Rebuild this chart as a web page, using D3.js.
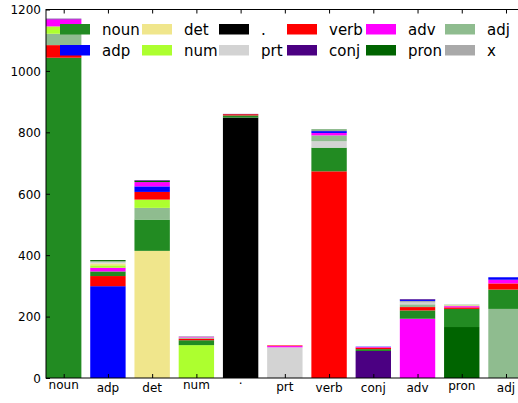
<!DOCTYPE html>
<html>
<head>
<meta charset="utf-8">
<script src="https://cdn.jsdelivr.net/npm/d3@7"></script>
<style>
  body { margin: 0; background: #fff; }
  svg { display: block; font-family: 'DejaVu Sans', sans-serif; }
</style>
</head>
<body>
<div id="chart"></div>
<script>
// categories on the x axis (one stacked bar each)
const categories = ['noun', 'adp', 'det', 'num', '.', 'prt', 'verb', 'conj', 'adv', 'pron', 'adj'];

// series (legend order) and their colours
const seriesNames = ['noun', 'adp', 'det', 'num', '.', 'prt', 'verb', 'conj', 'adv', 'pron', 'adj', 'x'];
const seriesColors = ['#228B22', '#0000FF', '#F0E68C', '#ADFF2F', '#000000', '#D3D3D3',
                      '#FF0000', '#4B0082', '#FF00FF', '#006400', '#8FBC8F', '#A9A9A9'];

// values per series, one per category
const nounVals = [1043, 15, 102, 16, 7, 0, 77, 6, 27, 59, 63];
const adpVals  = [0, 299, 18, 0, 0, 0, 6, 1, 4, 0, 8];
const detVals  = [0, 6, 414, 1, 0, 0, 0, 0, 0, 3, 0];
const numVals  = [24, 8, 27, 107, 0, 0, 0, 0, 0, 0, 0];
const dotVals  = [0, 0, 0, 0, 848, 0, 0, 0, 0, 0, 0];
const prtVals  = [0, 4, 0, 0, 0, 100, 21, 0, 6, 0, 0];
const verbVals = [41, 33, 25, 5, 4, 2, 673, 5, 11, 5, 20];
const conjVals = [2, 0, 2, 1, 1, 0, 0, 88, 2, 0, 0];
const advVals  = [23, 12, 14, 2, 0, 4, 8, 2, 193, 4, 12];
const pronVals = [0, 3, 4, 0, 0, 0, 2, 0, 0, 166, 0];
const adjVals  = [37, 4, 38, 3, 0, 0, 19, 0, 9, 2, 225];
const xVals    = [0, 0, 0, 0, 0, 0, 3, 0, 5, 0, 0];

const yTicks = [0, 200, 400, 600, 800, 1000, 1200];

const seriesValues = [nounVals, adpVals, detVals, numVals, dotVals, prtVals,
                      verbVals, conjVals, advVals, pronVals, adjVals, xVals];

// --- layout ---
const W = 518, H = 403;
const plot = { left: 46, top: 9.5, bottom: 378 };
const pitch = 44.23;
plot.right = plot.left + 10.8 * pitch; // goes past the window edge, like the reference

const svg = d3.select('#chart').append('svg')
  .attr('width', W).attr('height', H);

const x = d3.scaleLinear().domain([-0.4, 10.4]).range([plot.left, plot.right]);
const y = d3.scaleLinear().domain([0, 1200]).range([plot.bottom, plot.top]);
const barW = x(0.8) - x(0);

// ink metrics for text placement
const ctx = document.createElement('canvas').getContext('2d');
ctx.font = '12px "DejaVu Sans"';

// --- stacked bars, biggest segment at the bottom ---
categories.forEach((cat, ci) => {
  const segs = seriesNames.map((s, si) => ({ s: si, v: seriesValues[si][ci] }))
    .filter(d => d.v > 0)
    .sort((a, b) => b.v - a.v);
  let acc = 0;
  segs.forEach(d => {
    svg.append('rect')
      .attr('x', x(ci - 0.4))
      .attr('width', barW)
      .attr('y', y(acc + d.v))
      .attr('height', y(acc) - y(acc + d.v))
      .attr('fill', seriesColors[d.s]);
    acc += d.v;
  });
});

// --- frame ---
svg.append('rect')
  .attr('x', plot.left).attr('y', plot.top)
  .attr('width', plot.right - plot.left).attr('height', plot.bottom - plot.top)
  .attr('fill', 'none').attr('stroke', '#000').attr('stroke-width', 1);

// --- y axis (ticks inside) ---
const yAxis = svg.append('g')
  .attr('transform', `translate(${plot.left},0)`)
  .call(d3.axisLeft(y).tickValues(yTicks).tickSize(-4).tickPadding(5).tickFormat(d3.format('d')));
yAxis.select('.domain').remove();
yAxis.selectAll('line').attr('stroke', '#000');
yAxis.selectAll('text')
  .attr('font-size', 12).attr('font-family', 'DejaVu Sans').attr('fill', '#000')
  .attr('dy', '0.36em');

const yRight = svg.append('g')
  .attr('transform', `translate(${plot.right},0)`)
  .call(d3.axisRight(y).tickValues(yTicks).tickSize(-4).tickFormat(() => ''));
yRight.select('.domain').remove();
yRight.selectAll('line').attr('stroke', '#000');

// --- x axis ---
const idx = d3.range(categories.length);
const xAxis = svg.append('g')
  .attr('transform', `translate(0,${plot.bottom})`)
  .call(d3.axisBottom(x).tickValues(idx).tickSize(-4).tickFormat(() => ''));
xAxis.select('.domain').remove();
xAxis.selectAll('line').attr('stroke', '#000');

const xTop = svg.append('g')
  .attr('transform', `translate(0,${plot.top})`)
  .call(d3.axisTop(x).tickValues(idx).tickSize(-4).tickFormat(() => ''));
xTop.select('.domain').remove();
xTop.selectAll('line').attr('stroke', '#000');

// labels aligned on the top of their ink, as matplotlib does
const labelTop = plot.bottom + 3.5;
categories.forEach((cat, ci) => {
  const m = ctx.measureText(cat);
  svg.append('text')
    .attr('x', x(ci))
    .attr('y', labelTop + m.actualBoundingBoxAscent)
    .attr('text-anchor', 'middle')
    .attr('font-size', 12)
    .attr('fill', '#000')
    .text(cat);
});

// --- legend: 6 columns, filled column by column, no frame ---
const colX = [60, 142, 219, 287, 366, 445];
const rowBase = [35, 56];
const legend = svg.append('g');
seriesNames.forEach((s, i) => {
  const col = Math.floor(i / 2), row = i % 2;
  legend.append('rect')
    .attr('x', colX[col]).attr('y', rowBase[row] - 11)
    .attr('width', 30).attr('height', 10.5)
    .attr('fill', seriesColors[i]);
  legend.append('text')
    .attr('x', colX[col] + 42).attr('y', rowBase[row])
    .attr('font-size', 15).attr('fill', '#000')
    .text(s);
});
</script>
</body>
</html>
